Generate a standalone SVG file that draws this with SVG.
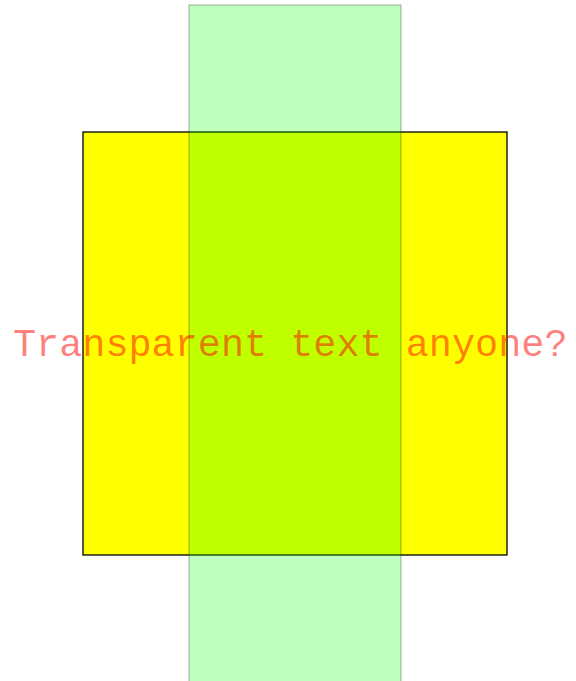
<svg xmlns="http://www.w3.org/2000/svg" width="576" height="681" viewBox="0 0 576 681">
<style>
.sq{fill:#ffff00;stroke:#000000;stroke-width:1.3}
.band{fill:#00ff00;fill-opacity:0.25;stroke:#000000;stroke-opacity:0.25;stroke-width:1.3}
.t{font-family:"Liberation Mono","Courier New",monospace;font-size:38.5px;fill:#ff0000;fill-opacity:0.5}
</style>
<rect width="576" height="681" fill="#ffffff"/>
<g id="square"><rect class="sq" x="83" y="132" width="424" height="423"/></g>
<g id="band"><rect class="band" x="189" y="5" width="212" height="690"/></g>
<g id="label"><text class="t" x="13" y="356">Transparent text anyone?</text></g>
</svg>
